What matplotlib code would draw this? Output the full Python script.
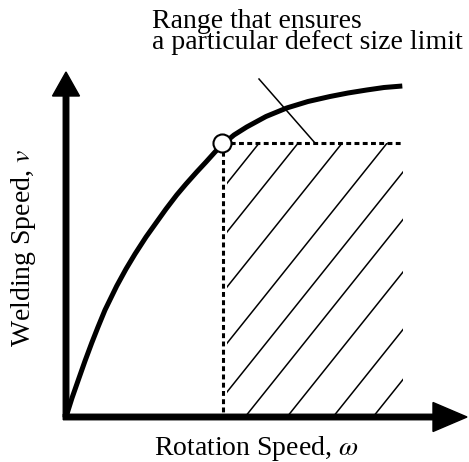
#! /usr/bin/env python3

import matplotlib as mpl
mpl.use('Agg')
import matplotlib.pyplot as plt
from matplotlib.patches import Rectangle
import numpy as np

mpl.rcParams['font.family'] = 'Liberation Serif'
mpl.rcParams['mathtext.fontset'] = 'stix'

# schematic coordinates, origin at the corner of the axes
curve_w = [0, 6, 12.3, 19, 25.7, 32, 39, 50.7, 60, 69, 80, 90.7, 100, 110.7,
           120, 130.7, 140, 149, 156, 168, 180.7, 200, 220.7, 242, 264, 282,
           300.7, 318, 336.3]
curve_v = [0, 19, 37, 56, 74, 90, 107, 131, 148, 163, 180, 195, 208, 222,
           233, 245, 255, 265, 272, 282, 290, 300.5, 309, 315.5, 320.5, 324,
           327, 329.5, 331]

limit_w = 156      # point where the curve meets the limit
limit_v = 274
region_right = 337
hatch_left = 161
hatch_slope = 1.25
hatch_x0 = [-26, 13, 57, 102, 141, 179, 221, 267, 307]

leader_w = [193, 249]
leader_v = [338, 274]

axis_w_end = 401
axis_v_end = 345

fig = plt.figure(figsize=[4.69, 4.62], dpi=100)
ax = fig.add_axes([0, 0, 1, 1])
ax.set_xlim(-66, 403)
ax.set_ylim(-45, 417)
ax.axis('off')

# hatch lines, clipped to the range rectangle
clip = Rectangle((hatch_left, 0), region_right - hatch_left, limit_v,
                 transform=ax.transData, fill=False, edgecolor='none')
ax.add_patch(clip)
for x0 in hatch_x0:
    xs = np.array([x0, x0 + limit_v / hatch_slope + 10])
    ln, = ax.plot(xs, hatch_slope * (xs - x0), color='k', lw=1.1)
    ln.set_clip_path(clip)

# dotted borders of the range
dot = (0, (1.6, 1.1))
ax.plot([limit_w, region_right], [limit_v, limit_v], color='k', lw=2.2,
        linestyle=dot, dash_capstyle='butt')
ax.plot([limit_w + 1, limit_w + 1], [limit_v, 0], color='k', lw=2.2,
        linestyle=dot, dash_capstyle='butt')

# leader line
ax.plot(leader_w, leader_v, color='k', lw=1.1)

# curve
ax.plot(curve_w, curve_v, color='k', lw=3.6, solid_capstyle='butt',
        solid_joinstyle='round')
ax.plot([limit_w], [limit_v], marker='o', markersize=13, markerfacecolor='white',
        markeredgecolor='k', markeredgewidth=1.5, zorder=5)

# axes arrows
ax.arrow(-2.75, 0, axis_w_end + 2.75, 0, width=5.5, head_width=29, head_length=34,
         length_includes_head=True, color='k', zorder=6)
ax.arrow(0, 0, 0, axis_v_end, width=5.5, head_width=27, head_length=24,
         length_includes_head=True, color='k', zorder=6)

ax.text(190, -38, r"Rotation Speed, $\omega$", fontsize=20, ha='center', va='baseline')
ax.text(-42, 169, r"Welding Speed, $v$", fontsize=20, ha='center', va='center',
        rotation=90)
ax.text(86, 368, "Range that ensures\na particular defect size limit", fontsize=20,
        ha='left', va='baseline', linespacing=0.78)

plt.savefig("out.png", dpi=100)
